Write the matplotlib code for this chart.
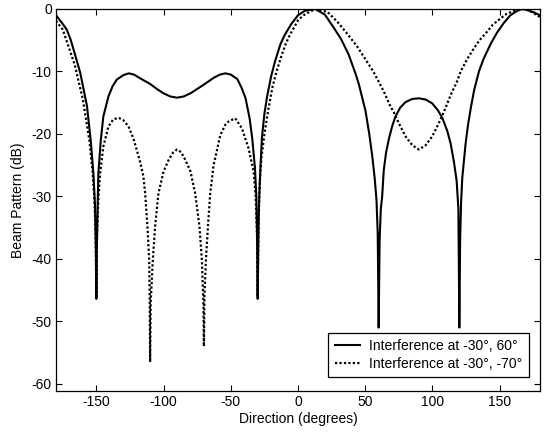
import matplotlib
matplotlib.use("Agg")
import matplotlib.pyplot as plt

# Solid curve: interference at -30°, 60°
solid_deg = [-180, -175, -172, -169, -166, -162, -157, -154.2, -152.2, -151, -150.4, -150,
             -149.6, -149, -148.5, -146.7, -144.8, -141, -138, -134.8, -130, -126,
             -122, -117.4, -110, -105, -100, -95, -90, -85, -80, -75, -70, -62.6,
             -58, -54, -50, -45.2, -42, -39, -36, -34, -32, -31, -30.5, -30, -29.5,
             -29, -28, -26.8, -25, -23, -20, -17, -13, -10, -5, 0, 5, 12.7, 20, 26.6, 32,
             37.7, 42.7, 45.2, 50.2, 53, 55.2, 57, 58.4, 59.3, 60, 60.7, 61.6, 62.6,
             63.8, 65.5, 67.6, 70, 72.5, 76, 80, 85, 90, 95, 99.8, 104, 107.3, 111,
             113.5, 116, 118, 119.3, 120, 120.6, 121.3, 122.2, 124.7, 126.5, 128.4,
             131, 134.6, 138, 143.3, 148, 153.2, 158, 163, 167, 171, 175, 180]
solid_db = [-1.0, -2.4, -3.3, -5.0, -7.2, -10.2, -15.5, -21.0, -26.3, -31.5, -38.0, -46.4,
            -38.0, -31.0, -26.3, -21.0, -17.2, -14.0, -12.4, -11.3, -10.6, -10.3,
            -10.5, -11.1, -12.0, -12.8, -13.5, -14.0, -14.2, -14.0, -13.5, -12.8, -12.1,
            -11.0, -10.5, -10.3, -10.5, -11.2, -12.6, -14.3, -17.5, -20.8, -25.5,
            -30.0, -36.0, -46.4, -37.0, -31.0, -25.5, -20.5, -16.8, -14.0, -10.8, -8.3,
            -5.6, -4.2, -2.4, -1.0, -0.3, 0.0, -0.9, -3.0, -4.8, -7.3, -10.3, -12.0,
            -16.3, -20.0, -23.5, -27.0, -30.6, -36.0, -51.0, -37.0, -32.0, -30.0, -25.8,
            -23.0, -20.8, -18.8, -17.2, -15.8, -14.9, -14.4, -14.3, -14.5, -15.1,
            -16.2, -17.4, -19.5, -21.5, -24.5, -27.5, -32.0, -51.0, -37.0, -31.0,
            -27.0, -21.5, -18.5, -16.0, -13.0, -10.0, -8.0, -5.6, -3.8, -2.2, -1.0,
            -0.3, 0.0, -0.2, -0.5, -1.0]

# Dotted curve: interference at -30°, -70°
dot_deg = [-180, -175, -169.6, -166, -163.4, -160, -158.4, -155.2, -152.7, -151.3,
           -150.5, -150, -149.5, -148.5, -147.2, -144.8, -141, -137.5, -133.6, -130,
           -126.1, -122.5, -119.9, -117.4, -115, -113.7, -112, -110.7, -110.3, -110,
           -109.6, -108, -106.3, -103.8, -100, -96.3, -93, -90, -87, -83.7, -80,
           -76.5, -73.3, -71.5, -70.4, -70, -69.6, -68.5, -67, -65.3, -62.8, -57.8,
           -54, -51.6, -46.7, -41.7, -38.5, -36.8, -33, -31.5, -30.5, -30, -29.5,
           -28.5, -27.3, -25, -22, -19, -16, -12, -9, -5.7, -2, 0, 4.2, 10, 14, 22,
           29.1, 36, 44, 50, 56, 63.8, 68.8, 71.2, 75, 80, 85, 90, 95, 99.8, 104,
           108.5, 113.5, 118.5, 121, 125.9, 130.8, 135, 140.8, 145, 150.7, 155, 160.6,
           167, 170, 174, 180]
dot_db = [-1.9, -3.3, -6.7, -9.0, -11.4, -14.5, -16.7, -21.0, -26.3, -31.0, -37.0,
          -46.0, -36.0, -30.5, -26.3, -22.0, -18.8, -17.7, -17.4, -17.8, -18.8, -20.7,
          -22.6, -24.5, -26.8, -29.5, -34.8, -40.2, -47.0, -56.5, -47.0, -40.2, -34.8,
          -29.5, -26.0, -24.2, -23.0, -22.5, -22.9, -24.2, -26.0, -29.5, -34.8, -40.2,
          -47.0, -54.0, -46.0, -40.2, -34.8, -29.5, -25.0, -20.2, -18.5, -18.0, -17.5,
          -19.1, -21.2, -22.3, -26.0, -30.0, -36.0, -46.0, -36.0, -28.0, -24.0, -20.0,
          -16.0, -12.5, -10.0, -7.3, -5.5, -4.0, -2.6, -1.8, -1.0, -0.3, 0.0, -0.5,
          -2.0, -3.8, -6.0, -8.0, -10.0, -13.2, -15.6, -16.5, -18.3, -20.4, -21.8,
          -22.5, -21.8, -20.4, -18.6, -16.5, -13.8, -11.5, -10.0, -8.0, -6.3, -5.0,
          -3.6, -2.5, -1.5, -0.8, -0.3, 0.0, -0.1, -0.5, -1.3]

labels = ["Interference at -30\u00b0, 60\u00b0", "Interference at -30\u00b0, -70\u00b0"]
xticks = [-150, -100, -50, 0, 50, 100, 150]
yticks = [0, -10, -20, -30, -40, -50, -60]

plt.rcParams['font.family'] = ['Liberation Sans', 'DejaVu Sans']
plt.rcParams['axes.unicode_minus'] = False

fig = plt.figure(figsize=(5.45, 4.34), dpi=100)
ax = fig.add_axes([0.1028, 0.0998, 0.888, 0.8795])
ax.plot(solid_deg, solid_db, color='black', lw=1.5, linestyle='-', label=labels[0])
ax.plot(dot_deg, dot_db, color='black', lw=1.6, linestyle=(0, (1, 1)), label=labels[1])

ax.set_xlim(-180, 180)
ax.set_ylim(-61.1, 0)
ax.set_xticks(xticks)
ax.set_yticks(yticks)
ax.tick_params(direction='in', top=True, right=True, length=4, width=0.8,
               labelsize=10, colors='black', pad=3)
for s in ax.spines.values():
    s.set_linewidth(0.9)
    s.set_color('black')
ax.set_xlabel("Direction (degrees)", fontsize=10, labelpad=2)
ax.set_ylabel("Beam Pattern (dB)", fontsize=10, labelpad=5)

leg = ax.legend(loc='lower right', bbox_to_anchor=(0.977, 0.036), borderaxespad=0,
                fancybox=False, edgecolor='black', framealpha=1, fontsize=10,
                handlelength=1.8, borderpad=0.45, labelspacing=0.25, handletextpad=0.7)
leg.get_frame().set_linewidth(0.9)

fig.savefig("out.png", dpi=100)
